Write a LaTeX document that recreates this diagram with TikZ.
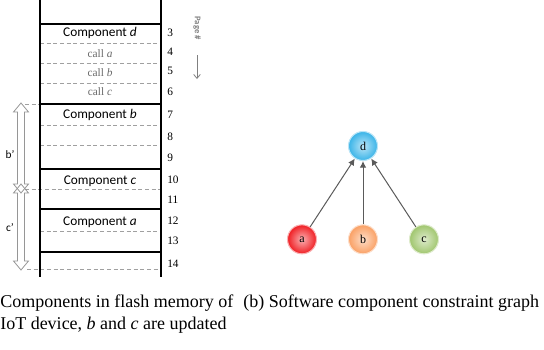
\documentclass[tikz,border=0pt]{standalone}
\usepackage{fontspec}
\setmainfont{Liberation Serif}
\newfontfamily\compfont{Carlito}
\usetikzlibrary{arrows.meta,positioning}
\definecolor{Slot}{RGB}{160,160,160}
\definecolor{CallGray}{RGB}{105,105,105}
\definecolor{SpanGray}{RGB}{150,150,150}
\definecolor{PageGray}{RGB}{128,128,128}
\definecolor{EdgeGray}{RGB}{90,90,90}
\definecolor{BallD}{RGB}{58,180,232}
\definecolor{BallA}{RGB}{240,30,35}
\definecolor{BallB}{RGB}{250,160,100}
\definecolor{BallC}{RGB}{160,198,110}
\tikzset{
  wall/.style={line width=1.5pt,draw=black},
  slot/.style={line width=0.6pt,draw=Slot,dash pattern=on 3pt off 2pt},
  complabel/.style={font=\compfont\fontsize{10}{12}\selectfont},
  calllabel/.style={text=CallGray,font=\fontsize{8.5}{10}\selectfont},
  pagenum/.style={anchor=west,inner sep=0pt,font=\fontsize{8.5}{10}\selectfont},
  spanarrow/.style={draw=SpanGray,line width=0.6pt,line join=miter},
  spanlabel/.style={font=\compfont\fontsize{8.5}{10}\selectfont},
  pagehdr/.style={text=PageGray,rotate=-90,font=\compfont\bfseries\fontsize{6.5}{8}\selectfont},
  pagearrow/.style={-{Straight Barb[length=3pt,width=5pt]},line width=0.6pt,draw=PageGray},
  ball/.style={circle,minimum size=21.75pt,inner sep=0pt,shading=radial,inner color=#1!35!white,outer color=#1,draw=#1!35!white,line width=0.8pt,font=\fontsize{9}{10}\selectfont},
  dep/.style={-{Latex[length=5pt,width=5pt]},line width=0.75pt,draw=EdgeGray},
  captext/.style={anchor=base west,inner sep=0pt,font=\fontsize{13.5}{16}\selectfont}
}
\begin{document}
\begin{tikzpicture}[x=0.75pt,y=-0.75pt]
\useasboundingbox (0,0) rectangle (544,350);
% flash memory, one row per page
\foreach \y in {43,63,83,125,145,231} \draw[slot] (40,\y) -- (161,\y);
\draw[slot] (25,104) -- (40,104);
\draw[slot] (25,189) -- (161,189);
\draw[slot] (27,269) -- (161,269);
\foreach \y in {24,104,169,209,252} \draw[wall] (40,\y) -- (161,\y);
\draw[wall] (40,0) -- (40,277);
\draw[wall] (161,0) -- (161,277);
\node[complabel] (compd) at (100,33) {Component \textit{d}};
\node[calllabel] (calla) at (100,54) {call \textit{a}};
\node[calllabel] (callb) at (100,73) {call \textit{b}};
\node[calllabel] (callc) at (100,92) {call \textit{c}};
\node[complabel] (compb) at (100,115) {Component \textit{b}};
\node[complabel] (compc) at (100,181) {Component \textit{c}};
\node[complabel] (compa) at (100,222) {Component \textit{a}};
\foreach \p/\y in {3/33,4/52,5/71,6/92,7/115,8/137,9/158,10/180,11/200,12/221,13/241,14/264}
  \node[pagenum] (page\p) at (167,\y) {\p};
% updated spans
\foreach \top/\bot/\lab/\ly in {103/193/b/155,184/270/c/228} {
  \draw[spanarrow] (21,\top) -- (28.5,\top+9) -- (24.5,\top+9) -- (24.5,\bot-9) -- (28.5,\bot-9)
    -- (21,\bot) -- (13.5,\bot-9) -- (17.5,\bot-9) -- (17.5,\top+9) -- (13.5,\top+9) -- cycle;
  \node[spanlabel] (span\lab) at (10,\ly) {\lab’};
}
\node[pagehdr] (pagetitle) at (197,28) {Page \#};
\coordinate (pgtop) at (197,55);
\coordinate (pgbot) at (197,79);
\draw[pagearrow] (pgtop) -- (pgbot);
% constraint graph
\node[ball=BallD] (d) at (363,146) {d};
\node[ball=BallB,on grid,below=70pt of d] (b) {b};
\node[ball=BallA,on grid,left=45.75pt of b] (a) {a};
\node[ball=BallC,on grid,right=45.75pt of b] (c) {c};
\draw[dep] (a) -- (d); \draw[dep] (b) -- (d); \draw[dep] (c) -- (d);
% captions
\node[captext] (capa) at (0,307) {Components in flash memory of};
\node[captext] (capa2) at (0,329) {IoT device, \textit{b} and \textit{c} are updated};
\node[captext] (capb) at (243,307) {(b) Software component constraint graph};
\end{tikzpicture}
\end{document}
